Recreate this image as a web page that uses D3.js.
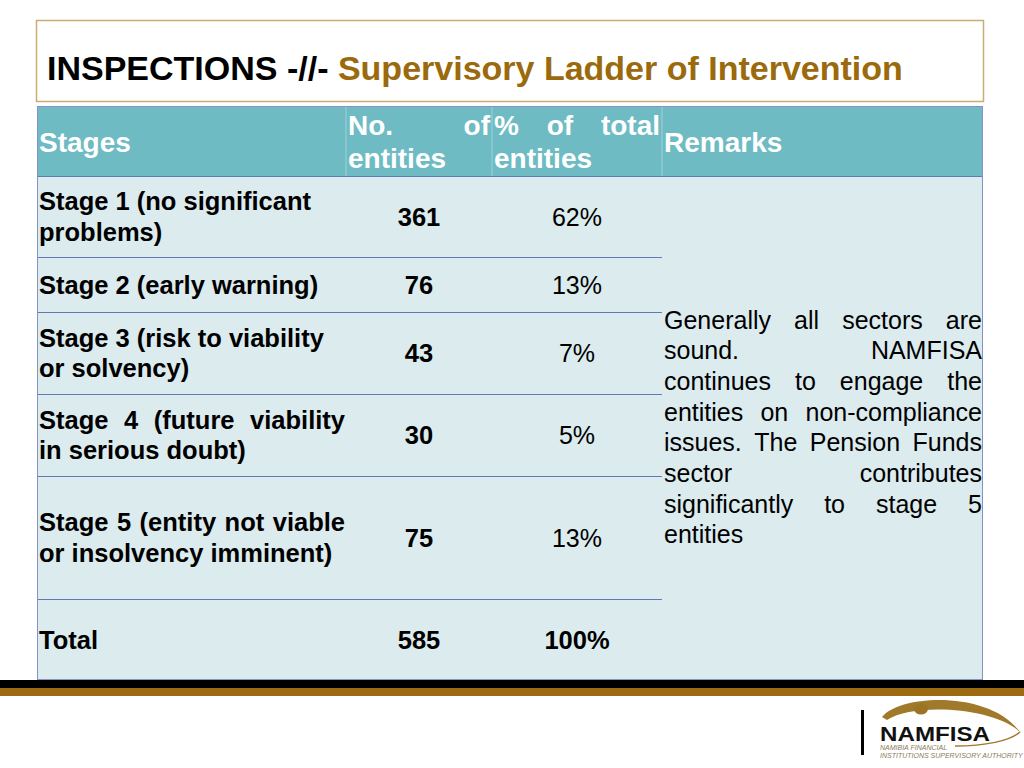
<!DOCTYPE html>
<meta charset="utf-8">
<style>
body { margin: 0; background: #fff; }
svg { display: block; font-family: "Liberation Sans", Arial, sans-serif; }
</style>
<body>
<svg width="1024" height="768"></svg>
<script src="https://cdn.jsdelivr.net/npm/d3@7"></script>
<script>
// table data
var stages = [
  ["Stage 1 (no significant", "problems)"],
  ["Stage 2 (early warning)"],
  ["Stage 3 (risk to viability", "or solvency)"],
  ["Stage 4 (future viability", "in serious doubt)"],
  ["Stage 5 (entity not viable", "or insolvency imminent)"]
];
var stageJustify = [false, false, false, true, true];
var counts = [361, 76, 43, 30, 75];
var percents = ["62%", "13%", "7%", "5%", "13%"];
var totalLabel = "Total";
var totalCount = 585;
var totalPercent = "100%";
var headers = ["Stages", ["No. of", "entities"], ["% of total", "entities"], "Remarks"];
var remarkLines = [
  "Generally all sectors are",
  "sound. NAMFISA",
  "continues to engage the",
  "entities on non-compliance",
  "issues.  The Pension Funds",
  "sector contributes",
  "significantly to stage 5",
  "entities"
];

var svg = d3.select("svg");

// layout
var tableLeft = 37, tableRight = 983, headTop = 106, headBottom = 176;
var rowEdges = [176, 257, 312, 394, 476, 599, 680];
var colX = d3.scaleOrdinal()
    .domain(["stage", "count", "pct", "remark", "end"])
    .range([37, 346, 492, 662, 983]);
var rowIndex = d3.range(6);
var rowTop = d3.scaleOrdinal().domain(rowIndex).range(rowEdges.slice(0, 6));
var rowBottom = d3.scaleOrdinal().domain(rowIndex).range(rowEdges.slice(1));
var rowMid = function(i) { return (rowTop(i) + rowBottom(i)) / 2; };

// place words of one line, spread between x0 and x1 when justified
function lineText(g, str, x0, x1, y, justify, style) {
  var words = str.split(/\s+/).filter(function(w) { return w.length; });
  var nodes = words.map(function(w) {
    return g.append("text").attr("y", y).text(w).call(style);
  });
  var widths = nodes.map(function(t) { return t.node().getComputedTextLength(); });
  var total = d3.sum(widths);
  var gap;
  if (justify && words.length > 1) gap = (x1 - x0 - total) / (words.length - 1);
  else {
    var sp = g.append("text").text("a a").call(style);
    var sp2 = g.append("text").text("aa").call(style);
    gap = sp.node().getComputedTextLength() - sp2.node().getComputedTextLength();
    sp.remove(); sp2.remove();
  }
  var x = x0;
  nodes.forEach(function(t, i) {
    t.attr("x", x);
    x += widths[i] + gap;
  });
}

// title box
svg.append("rect")
    .attr("x", 36.5).attr("y", 20.5).attr("width", 947).attr("height", 81)
    .attr("fill", "#fff").attr("stroke", "#c9ad72").attr("stroke-width", 1.5);
var title = svg.append("text")
    .attr("x", 47).attr("y", 80)
    .attr("font-size", 34).attr("font-weight", "bold");
title.append("tspan").attr("fill", "#000").text("INSPECTIONS -//- ");
title.append("tspan").attr("fill", "#9a6a0c").text("Supervisory Ladder of Intervention");

// table backgrounds
svg.append("rect")
    .attr("x", tableLeft).attr("y", headBottom)
    .attr("width", tableRight - tableLeft).attr("height", rowEdges[6] - headBottom)
    .attr("fill", "#dbebee");
svg.append("rect")
    .attr("x", tableLeft).attr("y", headTop)
    .attr("width", tableRight - tableLeft).attr("height", headBottom - headTop)
    .attr("fill", "#6ebbc4");

// faint header column separators
svg.selectAll("line.hsep")
  .data(["count", "pct", "remark"])
  .enter().append("line")
    .attr("x1", function(d) { return colX(d); }).attr("x2", function(d) { return colX(d); })
    .attr("y1", headTop).attr("y2", headBottom)
    .attr("stroke", "#9fd2d8").attr("stroke-width", 1);

// row separators (first three columns only)
svg.selectAll("line.rsep")
  .data(rowEdges.slice(1, 6))
  .enter().append("line")
    .attr("x1", tableLeft).attr("x2", colX("remark"))
    .attr("y1", function(d) { return d + 0.5; }).attr("y2", function(d) { return d + 0.5; })
    .attr("stroke", "#6577b4").attr("stroke-width", 1);

// header bottom line and outer border
svg.append("line")
    .attr("x1", tableLeft).attr("x2", tableRight)
    .attr("y1", headBottom + 0.5).attr("y2", headBottom + 0.5)
    .attr("stroke", "#5a7fb0").attr("stroke-width", 1);
svg.append("rect")
    .attr("x", tableLeft + 0.5).attr("y", headTop + 0.5)
    .attr("width", tableRight - tableLeft - 1).attr("height", rowEdges[6] - headTop - 1)
    .attr("fill", "none").attr("stroke", "#8593c4").attr("stroke-width", 1);

// header text
var headStyle = function(s) {
  s.attr("fill", "#fff").attr("font-size", 28).attr("font-weight", "bold");
};
var hg = svg.append("g");
hg.append("text").attr("x", 39).attr("y", 152).text(headers[0]).call(headStyle);
lineText(hg, headers[1][0], 348, 490, 135, true, headStyle);
lineText(hg, headers[1][1], 348, 490, 168, false, headStyle);
lineText(hg, headers[2][0], 494, 660, 135, true, headStyle);
lineText(hg, headers[2][1], 494, 660, 168, false, headStyle);
hg.append("text").attr("x", 664).attr("y", 152).text(headers[3]).call(headStyle);

// body text
var boldStyle = function(s) {
  s.attr("fill", "#000").attr("font-size", 25.5).attr("font-weight", "bold");
};
var plainStyle = function(s) {
  s.attr("fill", "#000").attr("font-size", 25);
};
var lineH = 30.5;
var bg = svg.append("g");
stages.forEach(function(lines, i) {
  var y0 = rowMid(i) - (lines.length - 1) * lineH / 2 + 9;
  lines.forEach(function(l, j) {
    var last = j === lines.length - 1;
    lineText(bg, l, 39, 345, y0 + j * lineH, stageJustify[i] && !last, boldStyle);
  });
});

bg.selectAll("text.count")
  .data(counts.concat([totalCount]))
  .enter().append("text")
    .attr("class", "count")
    .attr("x", 419)
    .attr("y", function(d, i) { return rowMid(i) + 9; })
    .attr("text-anchor", "middle")
    .call(boldStyle)
    .text(function(d) { return d; });

bg.selectAll("text.pct")
  .data(percents.concat([totalPercent]))
  .enter().append("text")
    .attr("class", "pct")
    .attr("x", 577)
    .attr("y", function(d, i) { return rowMid(i) + 9; })
    .attr("text-anchor", "middle")
    .each(function(d, i) {
      d3.select(this).call(i === 5 ? boldStyle : plainStyle);
    })
    .text(function(d) { return d; });

bg.append("text").attr("x", 39).attr("y", rowMid(5) + 9).text(totalLabel).call(boldStyle);

// remarks
var rLineH = 30.7;
var r0 = (rowEdges[0] + rowEdges[6]) / 2 - (remarkLines.length - 1) * rLineH / 2 + 8;
remarkLines.forEach(function(l, j) {
  var last = j === remarkLines.length - 1;
  lineText(bg, l, 664, 982, r0 + j * rLineH, !last, plainStyle);
});

// bottom bars
svg.append("rect").attr("x", 0).attr("y", 680).attr("width", 1024).attr("height", 8).attr("fill", "#000");
svg.append("rect").attr("x", 0).attr("y", 688).attr("width", 1024).attr("height", 8).attr("fill", "#9c6a10");

// logo
var logo = svg.append("g");
logo.append("rect").attr("x", 861).attr("y", 710).attr("width", 3).attr("height", 45).attr("fill", "#000");
logo.append("path")
    .attr("d", "M882,717 C900,694 990,690 1020,732 C995,708 915,702 887,720 Z")
    .attr("fill", "#a07a2a");
logo.append("path")
    .attr("d", "M955,746 C985,746 1010,741 1020,732")
    .attr("fill", "none").attr("stroke", "#a07a2a").attr("stroke-width", 1.5);
logo.append("ellipse").attr("cx", 921).attr("cy", 709).attr("rx", 7).attr("ry", 5.5).attr("fill", "#9c7424");
logo.append("text").attr("x", 880).attr("y", 741)
    .attr("font-size", 20).attr("font-weight", "bold").attr("fill", "#111")
    .attr("textLength", 110).attr("lengthAdjust", "spacingAndGlyphs").text("NAMFISA");
logo.append("text").attr("x", 880).attr("y", 750)
    .attr("font-size", 7).attr("fill", "#8a7a5a").attr("font-style", "italic").text("NAMIBIA FINANCIAL");
logo.append("text").attr("x", 880).attr("y", 758)
    .attr("font-size", 7).attr("fill", "#8a7a5a").attr("font-style", "italic").text("INSTITUTIONS SUPERVISORY AUTHORITY");
</script>
</body>
